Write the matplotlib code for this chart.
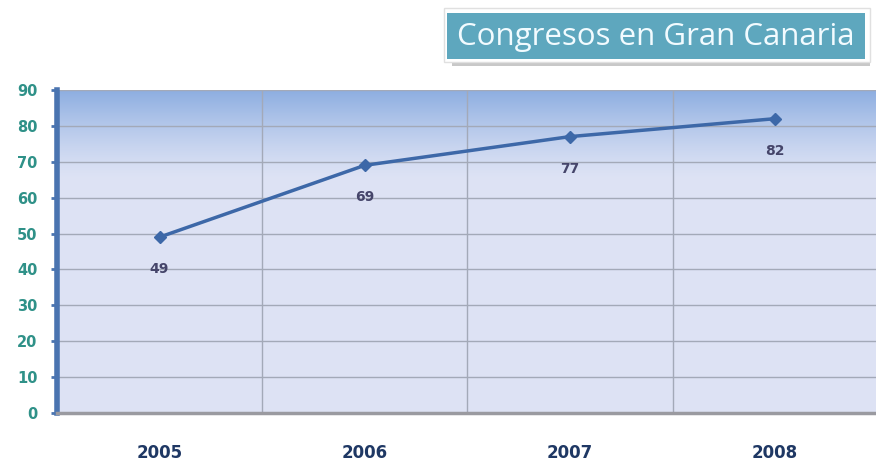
import numpy as np
import matplotlib.pyplot as plt
from matplotlib.patches import Rectangle

years = ["2005", "2006", "2007", "2008"]
congresos = [49, 69, 77, 82]
yticks = [0, 10, 20, 30, 40, 50, 60, 70, 80, 90]

fig = plt.figure(figsize=(8.76, 4.66), dpi=100)
fig.patch.set_facecolor("white")
ax = fig.add_axes([0.065, 0.1137, 0.937, 0.6933])

x = np.arange(len(years))
ax.set_xlim(-0.5, 3.5)
ax.set_ylim(0, 90)

# background gradient: blue at top fading into pale lavender (row 0 = top)
t = np.linspace(0, 1, 256)
w = np.clip(1 - t / 0.28, 0, 1) ** 1.3
top = np.array([0.55, 0.68, 0.88])
bottom = np.array([0.87, 0.89, 0.96])
img = (bottom[None, :] * (1 - w)[:, None] + top[None, :] * w[:, None]).reshape(256, 1, 3)
ax.imshow(img, extent=[-0.5, 3.5, 0, 90], aspect="auto", zorder=0, origin="upper")

# grid
for v in yticks[1:]:
    ax.axhline(v, color="#a3a9b8", lw=1, zorder=1)
ax.set_xticks(x)
ax.set_xticks([0.5, 1.5, 2.5], minor=True)
ax.grid(True, which="minor", axis="x", color="#a3a9b8", lw=1, zorder=1)

ax.plot(x, congresos, color="#3d68a8", lw=2.5, marker="D", markersize=6,
        markerfacecolor="#3d68a8", zorder=3)
for xi, v in zip(x, congresos):
    ax.annotate(str(v), (xi, v), xytext=(0, -23), textcoords="offset points",
                ha="center", va="center", fontsize=10, fontweight="bold", color="#45456a")

ax.set_yticks(yticks)
ax.set_yticklabels([str(t) for t in yticks], fontsize=10.5, fontweight="bold", color="#2f9188")
ax.set_xticklabels(years, fontsize=12, fontweight="bold", color="#1f3864")
ax.tick_params(axis="y", length=4, width=2, color="#4a74b0", pad=10)
ax.tick_params(axis="x", which="both", length=0, pad=22)

for s in ["top", "right"]:
    ax.spines[s].set_visible(False)
ax.spines["left"].set_color("#4a74b0")
ax.spines["left"].set_linewidth(4)
ax.spines["bottom"].set_color("#9a9aa0")
ax.spines["bottom"].set_linewidth(2.5)

# title box with shadow
fig.patches.append(Rectangle((452 / 876, 1 - 66 / 466), 418 / 876, 46 / 466,
                             transform=fig.transFigure, facecolor="#c8c8c8",
                             edgecolor="none", zorder=1))
fig.patches.append(Rectangle((444 / 876, 1 - 62 / 466), 426 / 876, 54 / 466,
                             transform=fig.transFigure, facecolor="white",
                             edgecolor="#e0e0e0", zorder=2))
fig.patches.append(Rectangle((447 / 876, 1 - 59 / 466), 418 / 876, 46 / 466,
                             transform=fig.transFigure, facecolor="#5ea7be",
                             edgecolor="none", zorder=3))
fig.text(656 / 876, 1 - 37 / 466, "Congresos en Gran Canaria", ha="center", va="center",
         fontsize=22.5, color="#f2fbff", family="Open Sans", zorder=4)

fig.savefig("out.png", dpi=100)
